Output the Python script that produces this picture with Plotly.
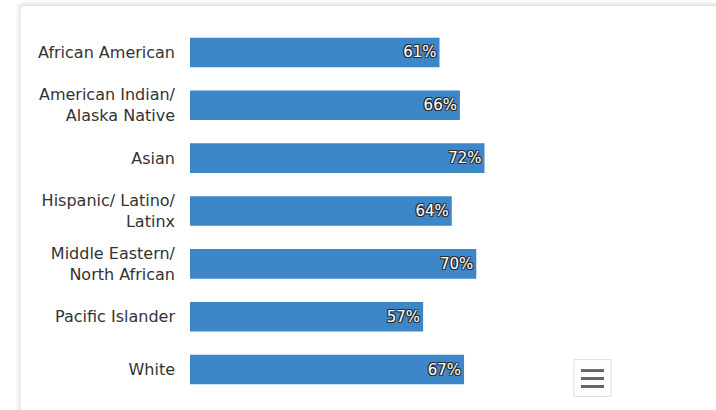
import plotly.graph_objects as go

categories = ["African American", "American Indian/<br>Alaska Native", "Asian",
              "Hispanic/ Latino/<br>Latinx", "Middle Eastern/<br>North African",
              "Pacific Islander", "White"]
values = [61, 66, 72, 64, 70, 57, 67]
value_labels = [f"{v}%" for v in values]

W, H = 716, 410
L, R = 190, 599
T, B = 25.5, 396.5

fig = go.Figure(go.Bar(
    x=values, y=categories, orientation="h",
    marker=dict(color="#3d86c8", line=dict(width=0)),
    width=0.56,
    text=value_labels, textposition="inside", insidetextanchor="end",
    textfont=dict(color="white", size=15, family="DejaVu Sans",
                  shadow="1px 1px 0 #2a2a2a, -1px -1px 0 #2a2a2a, 1px -1px 0 #2a2a2a, -1px 1px 0 #2a2a2a"),
    cliponaxis=False,
))

def px_x(p):
    return (p - L) / (R - L)

def px_y(p):
    return (B - p) / (B - T)

shapes = []
# card shadow layers
for off, col in [(3, "#f7f7f7"), (2, "#f0f0f0"), (1, "#e8e8e8"), (0, "#e0e0e0")]:
    shapes.append(dict(type="path", xref="paper", yref="paper",
                       path=(f"M {px_x(20 - off)},{px_y(440)} L {px_x(20 - off)},{px_y(9 - off)} "
                             f"Q {px_x(20 - off)},{px_y(5 - off)} {px_x(24 - off)},{px_y(5 - off)} "
                             f"L {px_x(760)},{px_y(5 - off)}"),
                       line=dict(color=col, width=1), layer="below"))
# menu button
shapes.append(dict(type="rect", xref="paper", yref="paper",
                   x0=px_x(574), x1=px_x(611), y0=px_y(397), y1=px_y(360),
                   line=dict(color="#dddddd", width=1), fillcolor="white"))
for yy in [371, 379, 387]:
    shapes.append(dict(type="line", xref="paper", yref="paper",
                       x0=px_x(581), x1=px_x(604), y0=px_y(yy), y1=px_y(yy),
                       line=dict(color="#666666", width=3)))

fig.update_layout(
    width=W, height=H,
    margin=dict(l=L, r=W - R, t=T, b=H - B, pad=0),
    paper_bgcolor="white", plot_bgcolor="white",
    showlegend=False,
    shapes=shapes,
    xaxis=dict(range=[0, 100], visible=False, fixedrange=True),
    yaxis=dict(autorange="reversed", showgrid=False, zeroline=False, showline=False,
               ticks="", ticklabelstandoff=14,
               tickfont=dict(family="DejaVu Sans", size=16, color="#333333"),
               fixedrange=True),
)

fig.write_html("out.html", config={"displayModeBar": False},
               post_script="document.body.style.margin='0';document.body.style.overflow='hidden';")
